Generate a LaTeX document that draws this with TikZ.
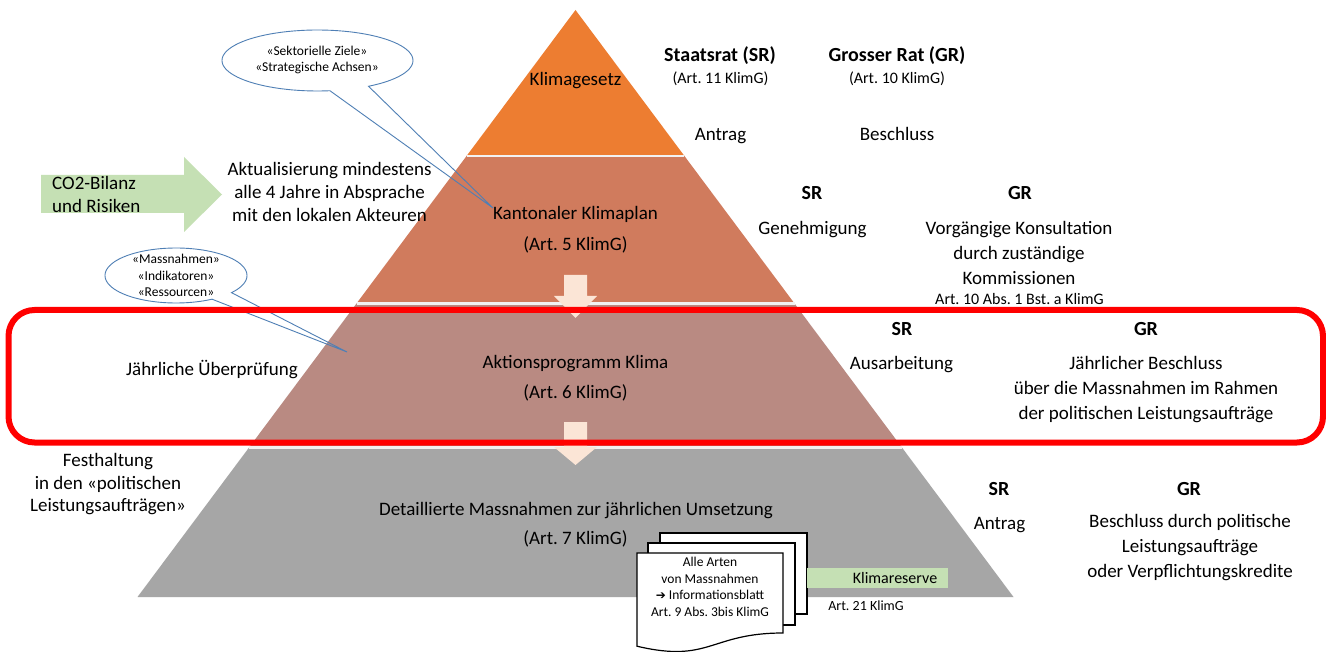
\documentclass[tikz,border=0pt]{standalone}
\usepackage{fontspec}
\setmainfont{Carlito}
\newfontfamily\dejavu{DejaVu Sans}
\newcommand\myfs[2]{\fontsize{#1}{#2}\selectfont}
\definecolor{orangeL}{HTML}{ED7D31}
\definecolor{salmonL}{HTML}{D07B5D}
\definecolor{roseL}{HTML}{B98A82}
\definecolor{greyL}{HTML}{A6A6A6}
\definecolor{peachL}{HTML}{FBE5D6}
\definecolor{lgreen}{HTML}{C5E0B4}
\definecolor{callblue}{HTML}{4F7FB5}
\definecolor{sepL}{HTML}{F2F2F2}
\begin{document}
\frenchspacing
\begin{tikzpicture}[x=1pt,y=-1pt,
  lbl/.style={font=\myfs{19}{25}, align=center, inner sep=0pt},
  lbld/.style={lbl, yshift=-2pt},
  lblb/.style={font={\bfseries\myfs{20}{25}}, align=center, inner sep=0pt},
  art/.style={font=\myfs{16}{19}, align=center, inner sep=0pt},
  call/.style={font=\myfs{13.5}{16.5}, align=center, inner sep=0pt},
  callline/.style={draw=callblue, line width=0.9pt},
  sepline/.style={draw=sepL, line width=2.5pt},
  downarrow/.style={fill=peachL},
  page/.style={fill=white, draw=black, line width=1.2pt}]
\useasboundingbox (0,0) rectangle (1326,652);
\fill[white] (0,0) rectangle (1326,652);

% pyramid layers
\fill[orangeL] (575.5,10) -- (684.44,156) -- (466.56,156) -- cycle;
\fill[salmonL] (466.56,156) -- (684.44,156) -- (794.5,303.5) -- (356.5,303.5) -- cycle;
\fill[roseL] (356.5,303.5) -- (794.5,303.5) -- (901.95,447.5) -- (249.05,447.5) -- cycle;
\fill[greyL] (249.05,447.5) -- (901.95,447.5) -- (1013.5,597) -- (137.5,597) -- cycle;
\draw[sepline] (466.56,156) -- (684.44,156);
\draw[sepline] (356.5,303.5) -- (794.5,303.5);
\draw[sepline] (249.05,447.5) -- (901.95,447.5);

% down arrows
\fill[downarrow] (564,275) -- (587,275) -- (587,296) -- (597,296) -- (575.5,318) -- (554,296) -- (564,296) -- cycle;
\fill[downarrow] (564,422) -- (587,422) -- (587,447) -- (597,447) -- (575.5,465) -- (554,447) -- (564,447) -- cycle;

% green input arrow
\fill[lgreen] (41,175) -- (184,175) -- (184,157) -- (222,194.5) -- (184,232) -- (184,213) -- (41,213) -- cycle;
\node[lbl, align=left, anchor=west, font=\myfs{19}{23}] (co2) at (52,194.5) {CO2-Bilanz\\und Risiken};

% callouts
\coordinate (tip1) at (493,208);
\coordinate (tip2) at (347,352);
\draw[callline] plot[domain=82.5:417.7, samples=90, variable=\t] ({317.5+95.5*cos(\t)},{60.5+30.5*sin(\t)}) -- (tip1) -- cycle;
\draw[callline] plot[domain=59.5:398.6, samples=90, variable=\t] ({176+71*cos(\t)},{275.5+27.5*sin(\t)}) -- (tip2) -- cycle;
\node[call] (c1txt) at (317,60) {«Sektorielle Ziele»\\«Strategische Achsen»};
\node[call] (c2txt) at (176,275.5) {«Massnahmen»\\«Indikatoren»\\«Ressourcen»};

% documents
\draw[page] (660,533) rectangle (807,614);
\draw[page] (648,543) rectangle (795,625);
\draw[page] (637,553) -- (783,553) -- (783,633) .. controls (710,633) and (710,663.5) .. (637,646.2) -- cycle;
\node[call] (doctxt) at (710,587) {Alle Arten\\von Massnahmen\\{\dejavu\bfseries\myfs{12}{16.5}➔} Informationsblatt\hspace*{9pt}\\Art. 9 Abs. 3bis KlimG};

% Klimareserve
\node[fill=lgreen, inner sep=0pt, minimum width=141pt, minimum height=20pt, anchor=north west] (klres) at (807,568) {};
\node[art, anchor=east] (klrestxt) at ([xshift=-11pt]klres.east) {Klimareserve};
\node[art, font=\myfs{14}{17}] (art21) at (866,606) {Art. 21 KlimG};

% top layer texts
\node[lbld] (klimagesetz) at (575.5,79) {Klimagesetz};
\node[lblb] (sr1) at (720,56) {Staatsrat (SR)};
\node[art] (sr1art) at (720.5,79) {(Art. 11 KlimG)};
\node[lblb] (gr1) at (897,56) {Grosser Rat (GR)};
\node[art] (gr1art) at (897,79) {(Art. 10 KlimG)};
\node[lbld] (antrag1) at (720.5,134) {Antrag};
\node[lbl] (beschluss1) at (897,134) {Beschluss};

% layer 2
\node[lbl, yshift=-1pt] (kkp) at (575.5,213) {Kantonaler Klimaplan};
\node[lbl, yshift=-1pt] (kkpart) at (575.5,244) {(Art. 5 KlimG)};
\node[lbl, font=\myfs{19}{22.8}] (aktual) at (329.5,192) {Aktualisierung mindestens\\alle 4 Jahre in Absprache\\mit den lokalen Akteuren};
\node[lblb] (sr2) at (812,193) {SR};
\node[lblb] (gr2) at (1020,193) {GR};
\node[lbld] (genehm) at (812.5,228) {Genehmigung};
\node[lbl] (vorg) at (1019,253) {Vorgängige Konsultation\\durch zuständige\\Kommissionen};
\node[art] (art10) at (1019.5,299) {Art. 10 Abs. 1 Bst. a KlimG};

% layer 3
\node[lbld] (jahr) at (212,368) {Jährliche Überprüfung};
\node[lbld] (ap) at (575.5,362) {Aktionsprogramm Klima};
\node[lbl, yshift=-1pt] (apart) at (575.5,392) {(Art. 6 KlimG)};
\node[lblb] (sr3) at (902,329) {SR};
\node[lbld] (ausarb) at (901.5,363) {Ausarbeitung};
\node[lblb] (gr3) at (1146,329) {GR};
\node[lbl, yshift=-1.5pt] (jbes) at (1146,388) {Jährlicher Beschluss\\über die Massnahmen im Rahmen\\der politischen Leistungsaufträge};

% layer 4
\node[lbl, font=\myfs{19}{22.5}] (festh) at (108,484.5) {Festhaltung\\in den «politischen\\Leistungsaufträgen»};
\node[lbld] (detail) at (576,509) {Detaillierte Massnahmen zur jährlichen Umsetzung};
\node[lbl, yshift=-1pt] (detart) at (575.5,538) {(Art. 7 KlimG)};
\node[lblb] (sr4) at (999,489) {SR};
\node[lbld] (antrag4) at (999.5,523) {Antrag};
\node[lblb] (gr4) at (1189,489) {GR};
\node[lbl] (bdp) at (1190,548) {Beschluss durch politische\\Leistungsaufträge\\oder Verpflichtungskredite};

% red frame
\draw[red, line width=6pt, rounded corners=26pt] (8.5,310) rectangle (1323,442.5);
\end{tikzpicture}
\end{document}
